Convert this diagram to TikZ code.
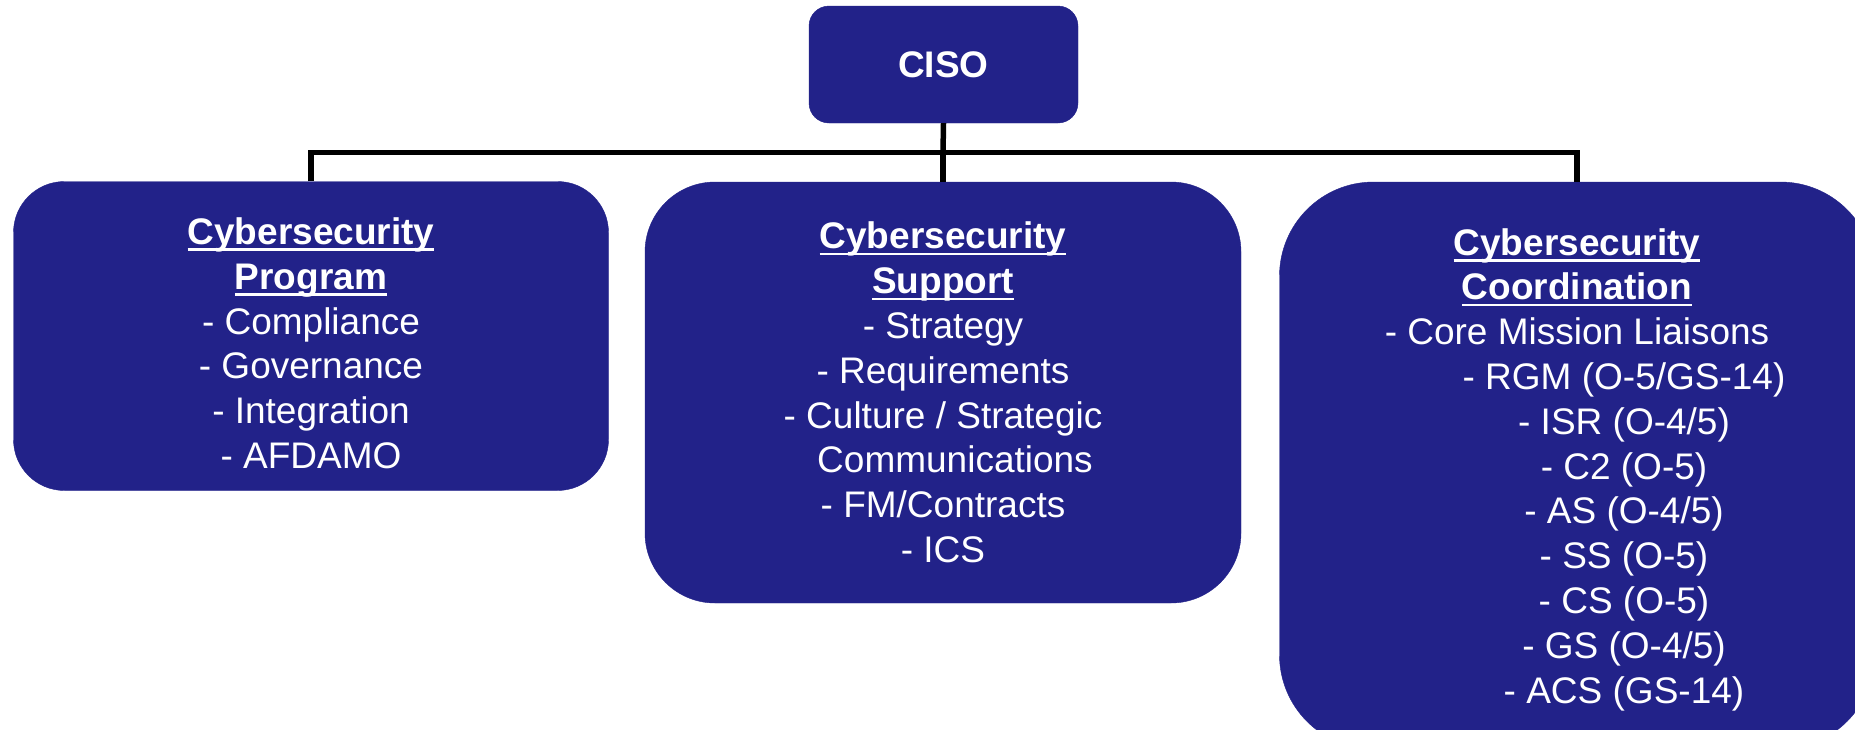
\documentclass[tikz,border=0pt]{standalone}
\usepackage{fontspec}
\setmainfont{Liberation Sans}
\definecolor{navy}{RGB}{34,34,137}
% underline at a fixed depth below the baseline
\newcommand\undl[1]{\setbox0\hbox{#1}\rlap{\rule[-6.5pt]{\wd0}{2.6pt}}\box0}
\newcommand\head[1]{\textbf{\undl{#1}}}
% invisible strut that lowers a text block inside its box
\newcommand\toppad[1]{\rule{0pt}{#1}}
\begin{document}
\begin{tikzpicture}[x=1pt,y=-1pt,
  box/.style={fill=navy, draw=navy, text=white, align=center,
    font=\fontsize{37}{44.8}\selectfont, inner sep=0pt},
  link/.style={draw=black, line width=5.5pt}]
\useasboundingbox (0,0) rectangle (1855,729);

\node[box, rounded corners=20pt, minimum width=269pt, minimum height=117pt,
  font=\fontsize{37}{44.8}\selectfont\bfseries] (ciso) at (943.5,64.5) {CISO};

\node[box, rounded corners=51pt, minimum width=595pt, minimum height=309pt]
  (prog) at (311,336) {\toppad{41.5pt}\head{Cybersecurity}\\\head{Program}\\- Compliance\\- Governance\\- Integration\\- AFDAMO};

\node[box, rounded corners=70pt, minimum width=596pt, minimum height=421pt]
  (supp) at (943,392.5) {\head{Cybersecurity}\\\head{Support}\\- Strategy\\- Requirements\\- Culture / Strategic\\\hspace*{24pt}Communications\\- FM/Contracts\\- ICS};

\node[box, rounded corners=94pt, minimum width=595pt, minimum height=567pt]
  (coord) at (1577,465.5) {\toppad{35pt}\head{Cybersecurity}\\\head{Coordination}\\- Core Mission Liaisons\\
  \hspace*{94pt}- RGM (O-5/GS-14)\\\hspace*{94pt}- ISR (O-4/5)\\\hspace*{94pt}- C2 (O-5)\\
  \hspace*{94pt}- AS (O-4/5)\\\hspace*{94pt}- SS (O-5)\\\hspace*{94pt}- CS (O-5)\\
  \hspace*{94pt}- GS (O-4/5)\\\hspace*{94pt}- ACS (GS-14)};

\coordinate (bus) at (943,152.5);
\draw[link] (ciso.south) -- (bus);
\draw[link] (bus) -- (supp.north);
\draw[link] (prog.north) |- (bus) -| (coord.north);
\end{tikzpicture}
\end{document}
